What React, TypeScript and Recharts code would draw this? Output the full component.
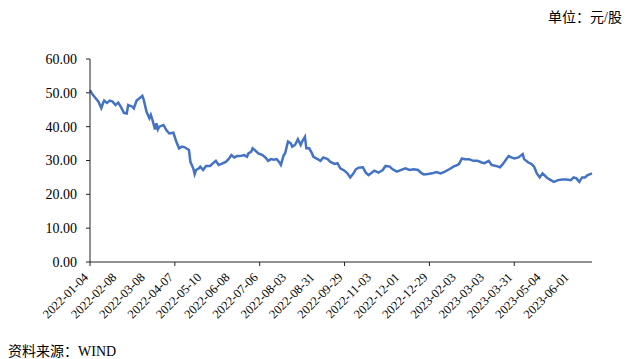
import { LineChart, Line, XAxis, YAxis } from "recharts";

// trading-day index (0 = 2022-01-04) and closing price
const tradingDay = [
  0, 2, 4, 6, 8, 9, 10, 12, 14, 16, 18, 20, 22, 24, 26, 27, 30, 31, 33, 35, 37, 38,
  40, 42, 43, 44, 46, 47, 48, 49, 52, 54, 56, 59, 61, 63, 65, 67, 70, 71, 73, 74,
  75, 77, 78, 80, 82, 85, 87, 89, 91, 93, 96, 98, 100, 102, 104, 106, 109, 111, 112,
  114, 115, 117, 119, 122, 124, 126, 128, 130, 132, 134, 135, 137, 138, 140, 142,
  143, 145, 147, 149, 150, 152, 153, 155, 157, 158, 161, 163, 165, 168, 170, 173,
  175, 177, 180, 182, 184, 186, 188, 190, 193, 195, 197, 199, 201, 204, 207, 209,
  212, 214, 217, 221, 223, 226, 229, 232, 234, 236, 239, 242, 245, 248, 251, 254,
  257, 260, 261, 263, 265, 268, 271, 274, 277, 279, 282, 284, 287, 290, 292, 296,
  298, 300, 303, 306, 307, 310, 312, 314, 316, 318, 320, 323, 325, 328, 331, 334,
  337, 340, 342, 344, 346, 348, 350, 352, 355,
];

const closePrice = [
  50.8, 49.4, 48.4, 47.4, 45.5, 46.7, 47.7, 47.0, 47.7, 47.4, 46.4, 47.1, 45.7, 44.1,
  43.9, 46.4, 45.9, 45.4, 47.7, 48.4, 49.1, 47.9, 44.4, 42.5, 43.5, 42.2, 39.2, 41.0,
  39.2, 40.0, 40.5, 39.0, 38.0, 38.2, 35.6, 33.6, 34.1, 33.9, 33.1, 29.6, 27.7, 26.0,
  27.2, 27.7, 28.2, 27.2, 28.4, 28.4, 29.2, 29.9, 28.7, 29.0, 29.6, 30.4, 31.6, 30.9,
  31.3, 31.3, 31.6, 31.1, 32.1, 32.6, 33.6, 32.9, 32.1, 31.6, 30.9, 29.9, 30.4, 30.2,
  30.4, 29.4, 28.7, 31.6, 32.1, 35.6, 35.1, 34.1, 34.6, 36.3, 34.6, 35.6, 37.0, 33.6,
  33.6, 32.1, 31.1, 30.4, 29.9, 30.9, 30.4, 29.6, 29.0, 29.2, 27.7, 27.0, 26.2, 25.0,
  26.0, 27.4, 27.9, 28.0, 26.4, 25.7, 26.3, 27.0, 26.4, 27.2, 28.4, 28.2, 27.4, 26.7,
  27.4, 27.7, 27.2, 27.4, 27.2, 26.4, 25.9, 26.0, 26.2, 26.6, 26.2, 26.7, 27.4, 28.2,
  28.7, 29.0, 30.6, 30.4, 30.4, 29.9, 29.9, 29.4, 29.2, 29.9, 28.7, 28.4, 28.0, 29.0,
  31.3, 30.9, 30.6, 30.9, 31.9, 30.4, 29.4, 29.0, 28.2, 26.2, 25.0, 26.2, 25.0, 24.4,
  23.7, 24.2, 24.4, 24.4, 24.2, 25.0, 24.7, 23.7, 25.0, 25.0, 25.7, 26.2,
];

const dateLabels = [
  "2022-01-04", "2022-02-08", "2022-03-08", "2022-04-07", "2022-05-10", "2022-06-08",
  "2022-07-06", "2022-08-03", "2022-08-31", "2022-09-29", "2022-11-03", "2022-12-01",
  "2022-12-29", "2023-02-03", "2023-03-03", "2023-03-31", "2023-05-04", "2023-06-01",
];
const labelDays = [0, 20, 40, 60, 80, 100, 120, 140, 160, 180, 200, 220, 240, 260, 280, 300, 320, 340];
const yTicks = [0, 10, 20, 30, 40, 50, 60];

const serif = "'Liberation Serif', 'Times New Roman', 'Noto Sans CJK SC', serif";
const axisColor = "#222";

const chartData = tradingDay.map((d, i) => ({ day: d, price: closePrice[i] }));

// rotated date label; a tick mark only every 60 trading days like the original
const DateTick = (props: any) => {
  const { x, y, payload } = props;
  const idx = labelDays.indexOf(payload.value);
  return (
    <g transform={`translate(${x},${y})`}>
      {payload.value % 60 === 0 && <line x1={0} y1={-6} x2={0} y2={-2} stroke={axisColor} />}
      <text
        x={0}
        y={0}
        transform="translate(-1,10) rotate(-45)"
        textAnchor="end"
        fontSize={12.5}
        fontFamily={serif}
        fill="#000"
      >
        {dateLabels[idx]}
      </text>
    </g>
  );
};

export default function App() {
  return (
    <div
      style={{
        position: "absolute",
        left: 0,
        top: 0,
        width: 640,
        height: 359,
        background: "#fff",
        fontFamily: serif,
        color: "#000",
      }}
    >
      <div style={{ position: "absolute", right: 18, top: 6, fontSize: 14 }}>单位：元/股</div>
      <LineChart
        width={640}
        height={359}
        data={chartData}
        margin={{ top: 59, right: 48, bottom: 7, left: 10 }}
      >
        <XAxis
          type="number"
          dataKey="day"
          domain={[0, 355]}
          ticks={labelDays}
          interval={0}
          tickLine={false}
          tickSize={4}
          tickMargin={2}
          axisLine={{ stroke: axisColor }}
          height={90}
          tick={<DateTick />}
        />
        <YAxis
          type="number"
          domain={[0, 60]}
          ticks={yTicks}
          interval={0}
          width={80}
          tickSize={4}
          tickMargin={9}
          axisLine={{ stroke: axisColor }}
          tickLine={{ stroke: axisColor }}
          tick={{ fill: "#000", fontSize: 14, fontFamily: serif }}
          tickFormatter={(v: number) => v.toFixed(2)}
        />
        <Line
          type="linear"
          dataKey="price"
          stroke="#4472C4"
          strokeWidth={2.5}
          dot={false}
          isAnimationActive={false}
        />
      </LineChart>
      <div style={{ position: "absolute", left: 8, top: 340, fontSize: 14 }}>资料来源：WIND</div>
    </div>
  );
}
